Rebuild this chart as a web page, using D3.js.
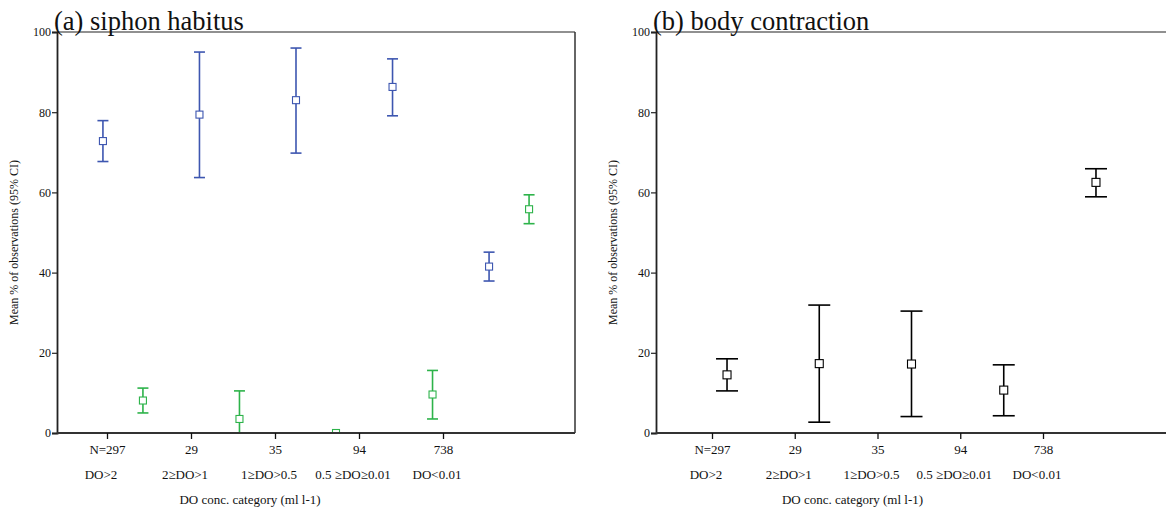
<!DOCTYPE html>
<html>
<head>
<meta charset="utf-8">
<script src="https://cdn.jsdelivr.net/npm/d3@7"></script>
<style>
  body { margin: 0; background: #fff; }
  svg text { font-family: "Liberation Serif", "Times New Roman", serif; }
</style>
</head>
<body>
<svg id="chart" width="1166" height="511"></svg>
<script>
// categories and N labels
const categories = ["DO>2", "2≥DO>1", "1≥DO>0.5", "0.5 ≥DO≥0.01", "DO<0.01"];
const nLabels = ["N=297", "29", "35", "94", "738"];
const yTicks = [0, 20, 40, 60, 80, 100];

// (a) siphon habitus - two series
const siphonBlueMean = [72.8, 79.4, 83.0, 86.3, 41.5];
const siphonBlueLow  = [67.7, 63.7, 69.8, 79.1, 37.9];
const siphonBlueHigh = [77.9, 95.0, 96.0, 93.3, 45.1];
const siphonGreenMean = [8.1, 3.5, 0, 9.6, 55.8];
const siphonGreenLow  = [5.0, 0, 0, 3.5, 52.2];
const siphonGreenHigh = [11.2, 10.5, 0, 15.6, 59.4];

// (b) body contraction
const bodyMean = [14.5, 17.3, 17.2, 10.7, 62.5];
const bodyLow  = [10.5, 2.7, 4.1, 4.3, 58.9];
const bodyHigh = [18.5, 31.9, 30.4, 17.0, 65.9];

const svg = d3.select("#chart");
const plotTop = 32, plotBottom = 433;
const serif = "Liberation Serif, Times New Roman, serif";

function panel(cfg) {
  const g = svg.append("g").attr("font-family", serif);
  const y = d3.scaleLinear().domain([0, 100]).range([plotBottom, plotTop]);

  // x for the markers (clusters)
  const xBand = d3.scaleBand().domain(categories)
      .range([cfg.left, cfg.right])
      .paddingInner(0).paddingOuter(cfg.outerPad);
  const xSeries = d3.scalePoint().domain(cfg.series.map(s => s.name))
      .range(cfg.series.length > 1 ? [-20, 20] : [0, 0]);
  // x for the tick labels (SPSS puts them on their own spacing)
  const xTick = d3.scalePoint().domain(categories).range(cfg.tickRange);

  const clipId = "clip-" + cfg.id;
  g.append("clipPath").attr("id", clipId)
    .append("rect")
      .attr("x", cfg.left).attr("y", plotTop - 10)
      .attr("width", cfg.right - cfg.left).attr("height", plotBottom - plotTop + 10);

  // frame
  g.append("line")
    .attr("x1", cfg.left).attr("x2", cfg.frameRight)
    .attr("y1", plotTop).attr("y2", plotTop)
    .attr("stroke", "#222").attr("stroke-width", 1.2);
  if (cfg.rightBorder) {
    g.append("line")
      .attr("x1", cfg.frameRight).attr("x2", cfg.frameRight)
      .attr("y1", plotTop).attr("y2", plotBottom)
      .attr("stroke", "#333").attr("stroke-width", 1.5);
  }

  // error bars
  const marks = g.append("g").attr("clip-path", `url(#${clipId})`);
  cfg.series.forEach(s => {
    const rows = categories.map((c, i) => ({
      cat: c, mean: s.mean[i], lo: s.low[i], hi: s.high[i]
    }));
    const cx = d => xBand(d.cat) + xBand.bandwidth() / 2 + xSeries(s.name);
    const eb = marks.append("g")
      .attr("stroke", s.color).attr("fill", "none").attr("stroke-width", 1.6)
      .selectAll("g").data(rows).join("g");
    eb.append("line")
      .attr("x1", cx).attr("x2", cx)
      .attr("y1", d => y(d.lo)).attr("y2", d => y(d.hi));
    eb.append("line")
      .attr("x1", d => cx(d) - cfg.cap / 2).attr("x2", d => cx(d) + cfg.cap / 2)
      .attr("y1", d => y(d.hi)).attr("y2", d => y(d.hi));
    eb.append("line")
      .attr("x1", d => cx(d) - cfg.cap / 2).attr("x2", d => cx(d) + cfg.cap / 2)
      .attr("y1", d => y(d.lo)).attr("y2", d => y(d.lo));
    eb.append("rect")
      .attr("x", d => cx(d) - cfg.box / 2).attr("y", d => y(d.mean) - cfg.box / 2)
      .attr("width", cfg.box).attr("height", cfg.box)
      .attr("fill", "#fff").attr("stroke-width", 1.1);
  });

  // y axis
  const yAxis = g.append("g")
    .attr("transform", `translate(${cfg.left},0)`)
    .call(d3.axisLeft(y).tickValues(yTicks).tickSize(5).tickPadding(1));
  yAxis.attr("font-family", serif);
  yAxis.select(".domain").attr("stroke", "#222").attr("stroke-width", 1.8);
  yAxis.selectAll(".tick line").attr("stroke", "#222").attr("stroke-width", 1.2);
  yAxis.selectAll("text").attr("font-size", 12).attr("fill", "#111");

  // x axis
  g.append("line")
    .attr("x1", cfg.left).attr("x2", cfg.frameRight)
    .attr("y1", plotBottom).attr("y2", plotBottom)
    .attr("stroke", "#333").attr("stroke-width", 1.8);
  const xAxis = g.append("g")
    .attr("transform", `translate(0,${plotBottom})`)
    .call(d3.axisBottom(xTick).tickSize(6).tickFormat((d, i) => nLabels[i]).tickPadding(6));
  xAxis.attr("font-family", serif);
  xAxis.select(".domain").remove();
  xAxis.selectAll(".tick line").attr("stroke", "#111").attr("stroke-width", 1.3);
  xAxis.selectAll("text").attr("font-size", 13).attr("fill", "#111");

  g.append("g").selectAll("text").data(categories).join("text")
    .attr("x", d => xTick(d) - 6)
    .attr("y", 479)
    .attr("text-anchor", "middle")
    .attr("font-size", 13).attr("fill", "#111")
    .text(d => d);

  g.append("text")
    .attr("x", (xTick.range()[0] + xTick.range()[1]) / 2 - 25)
    .attr("y", 504)
    .attr("text-anchor", "middle")
    .attr("font-size", 13).attr("fill", "#111")
    .text("DO conc. category (ml l-1)");

  g.append("text")
    .attr("transform", `translate(${cfg.left - 39},${(plotTop + plotBottom) / 2 + 10}) rotate(-90)`)
    .attr("text-anchor", "middle")
    .attr("font-size", 12).attr("fill", "#111")
    .text("Mean % of observations (95% CI)");

  g.append("text")
    .attr("x", cfg.left - 3).attr("y", plotTop - 2)
    .attr("font-size", 26.5).attr("fill", "#111")
    .text(cfg.title);
}

panel({
  id: "a", title: "(a) siphon habitus",
  left: 57, right: 575, frameRight: 575, rightBorder: true, outerPad: 0.183,
  tickRange: [107, 443], cap: 11, box: 7,
  series: [
    { name: "blue", color: "#3d56b0", mean: siphonBlueMean, low: siphonBlueLow, high: siphonBlueHigh },
    { name: "green", color: "#2db34a", mean: siphonGreenMean, low: siphonGreenLow, high: siphonGreenHigh }
  ]
});

panel({
  id: "b", title: "(b) body contraction",
  left: 656, right: 1167, frameRight: 1166, rightBorder: false, outerPad: 0.27,
  tickRange: [712, 1043], cap: 22, box: 8,
  series: [
    { name: "black", color: "#000", mean: bodyMean, low: bodyLow, high: bodyHigh }
  ]
});
</script>
</body>
</html>
